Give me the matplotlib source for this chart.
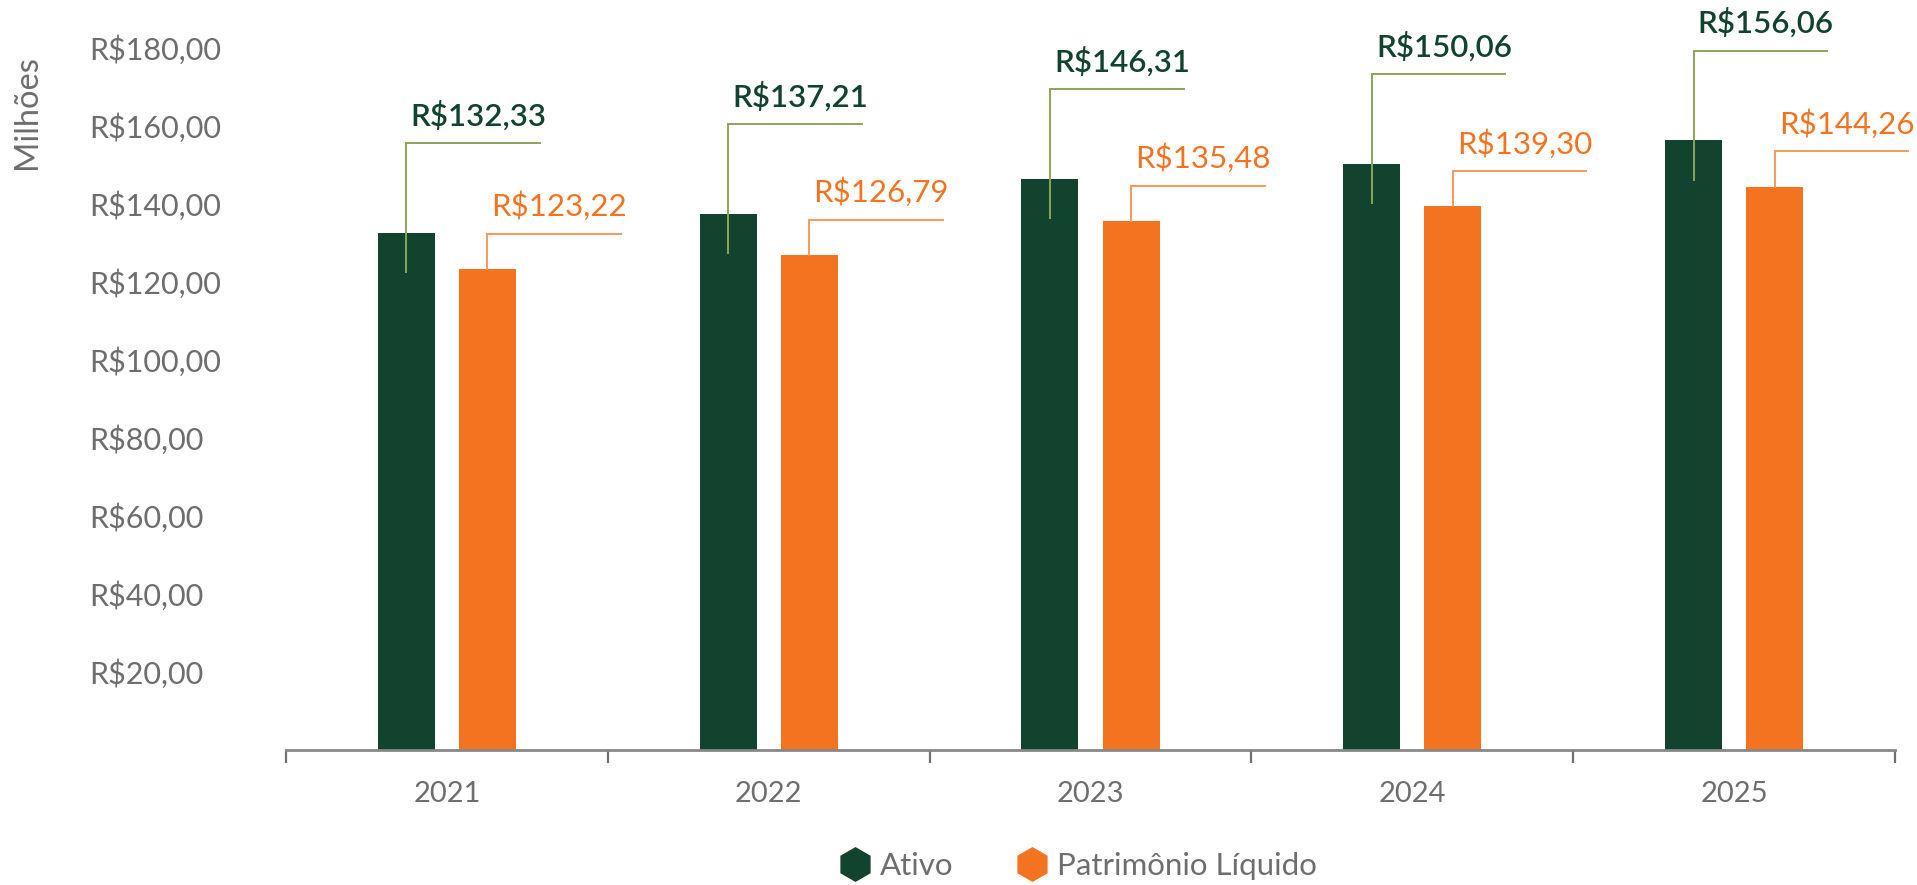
import matplotlib
matplotlib.use("Agg")
import matplotlib.pyplot as plt
from matplotlib.lines import Line2D
import numpy as np

# ---- data ----
years = ["2021", "2022", "2023", "2024", "2025"]
ativo = [132.33, 137.21, 146.31, 150.06, 156.06]
patrimonio = [123.22, 126.79, 135.48, 139.30, 144.26]
ytick_values = [20, 40, 60, 80, 100, 120, 140, 160, 180]
series_names = ["Ativo", "Patrimônio Líquido"]

def brl(v):
    s = f"{v:,.2f}"
    s = s.replace(",", "X").replace(".", ",").replace("X", ".")
    return "R$" + s

GREEN = "#11432F"
ORANGE = "#F47321"
GREEN_LINE = "#8AA55A"
ORANGE_LINE = "#F7995A"
GRAY = "#6E6E6E"
AXIS_GRAY = "#888888"

plt.rcParams['font.family'] = ['Lato', 'DejaVu Sans']

fig = plt.figure(figsize=(19.17, 8.85), dpi=100)
ax = fig.add_axes([286/1917, 1-750/885, (1895-286)/1917, (750-47)/885])

x = np.arange(len(years))
w = 0.177
off = 0.126
ax.bar(x - off, ativo, width=w, color=GREEN, zorder=2)
ax.bar(x + off, patrimonio, width=w, color=ORANGE, zorder=2)

ax.set_xlim(-0.5, len(years) - 0.5)
ax.set_ylim(0, 180)

# leader lines and labels
line_len = 0.415
for i in range(len(years)):
    # Ativo
    cx = x[i] - off
    top = ativo[i]
    ly = top + 23
    ax.plot([cx, cx, cx + line_len], [top - 10, ly, ly], color=GREEN_LINE,
            lw=1.4, zorder=3, clip_on=False, solid_joinstyle='miter')
    ax.annotate(brl(ativo[i]), xy=(cx, ly), xytext=(3, 9), textcoords='offset points',
                ha='left', va='bottom', fontsize=22.5, color=GREEN, fontweight='semibold',
                annotation_clip=False)
    # Patrimonio
    cx = x[i] + off
    top = patrimonio[i]
    ly = top + 9
    ax.plot([cx, cx, cx + line_len], [top, ly, ly], color=ORANGE_LINE,
            lw=1.4, zorder=3, clip_on=False, solid_joinstyle='miter')
    ax.annotate(brl(patrimonio[i]), xy=(cx, ly), xytext=(3, 9), textcoords='offset points',
                ha='left', va='bottom', fontsize=22.5, color=ORANGE,
                annotation_clip=False)

# axes styling
for s in ["top", "right", "left"]:
    ax.spines[s].set_visible(False)
ax.spines["bottom"].set_color(AXIS_GRAY)
ax.spines["bottom"].set_linewidth(2)

ax.set_xticks(x)
ax.set_xticklabels(years, fontsize=21, color=GRAY)
ax.tick_params(axis='x', which='major', length=0, pad=22)
ax.set_xticks(np.arange(-0.5, len(years)), minor=True)
ax.tick_params(axis='x', which='minor', length=9, width=1.6, color="#707070")

ax.set_yticks(ytick_values)
ax.set_yticklabels([brl(v) for v in ytick_values], fontsize=22, color=GRAY)
ax.tick_params(axis='y', length=0, pad=142)
for lab in ax.get_yticklabels():
    lab.set_horizontalalignment('left')

fig.text(27/1917, 1-112/885, "Milhões", rotation=90, ha='center', va='center',
         fontsize=23.5, color=GRAY)

handles = [
    Line2D([], [], linestyle='none', marker='h', markersize=24, color=GREEN),
    Line2D([], [], linestyle='none', marker='h', markersize=24, color=ORANGE),
]
fig.legend(handles, series_names, loc='center', bbox_to_anchor=(1078/1917, 1-866/885),
           ncol=2, frameon=False, fontsize=22.5, labelcolor=GRAY, handletextpad=0.3,
           columnspacing=2.0, handlelength=1.0, borderaxespad=0, borderpad=0)

fig.savefig("out.png", dpi=100)
